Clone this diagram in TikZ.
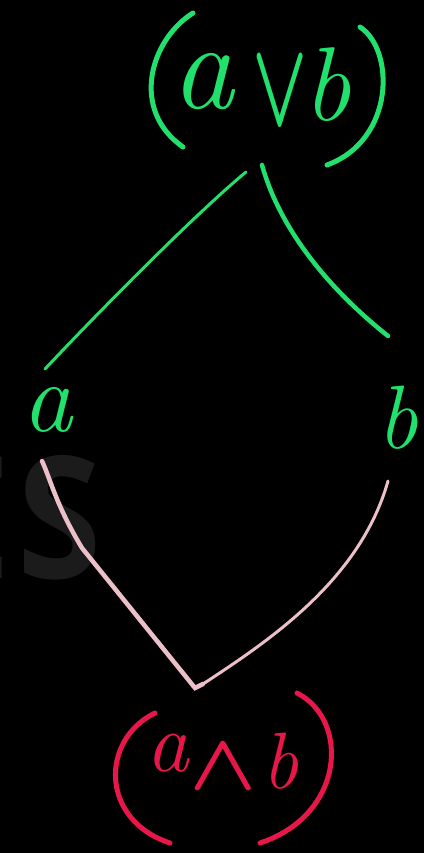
\documentclass[tikz,border=0pt]{standalone}
\usepackage{fix-cm}
\usepackage{fontspec}
\newfontfamily\wmfont{Open Sans}
\definecolor{hgreen}{HTML}{22E06C}
\definecolor{hpink}{HTML}{EBC0C8}
\definecolor{hred}{HTML}{E8174A}
\definecolor{wmgray}{HTML}{1B1B1B}
\begin{document}
\begin{tikzpicture}[x=1pt,y=-1pt,
  stroke/.style={line width=#1,line cap=round},
  gtxt/.style={text=hgreen,inner sep=0pt},
  rtxt/.style={text=hred,inner sep=0pt}]
\useasboundingbox (0,0) rectangle (424,853);
\fill[black] (0,0) rectangle (424,853);
% watermark
\begin{scope}
\clip (0,0) rectangle (424,853);
\node[text=wmgray,inner sep=0pt,anchor=east,xscale=0.9,font={\wmfont\bfseries\fontsize{170}{170}\selectfont}] (wm) at (102,518) {E\kern 7pt S};
\end{scope}
% top expression
\node[gtxt,font=\itshape\fontsize{125}{125}\selectfont] (topa) at (203,82) {a};
\node[gtxt,xscale=0.6,font=\boldmath\fontsize{120}{120}\selectfont] (topor) at (280,92) {$\vee$};
\node[gtxt,font=\itshape\fontsize{105}{105}\selectfont] (topb) at (327,85) {b};
\draw[hgreen,stroke=5pt] (193,13) .. controls (150,40) and (130,110) .. (183,147);
\draw[hgreen,stroke=5pt] (360,27) .. controls (395,50) and (395,140) .. (327,165);
% middle letters
\node[gtxt,font=\itshape\fontsize{100}{100}\selectfont] (a) at (47,410) {a};
\node[gtxt,font=\itshape\fontsize{90}{90}\selectfont] (b) at (398,418) {b};
% green connectors
\coordinate (tl) at (246,172);
\coordinate (tr) at (262,165);
\coordinate (al) at (45,369);
\coordinate (br) at (388,336);
\draw[hgreen,stroke=3pt] (tl) .. controls (200,210) and (110,300) .. (al);
\draw[hgreen,stroke=4.5pt] (tr) .. controls (280,230) and (330,290) .. (br);
% pink connectors
\coordinate (la) at (42,461);
\coordinate (rb) at (388,481);
\coordinate (m1) at (195,688);
\coordinate (m2) at (203,684);
\draw[hpink,stroke=4.5pt] (la) .. controls (50,478) and (56,505) .. (82,548) -- (m1) -- (m2);
\draw[hpink,stroke=3pt] (rb) .. controls (360,580) and (270,640) .. (m2);
% bottom expression
\node[rtxt,font=\itshape\fontsize{85}{85}\selectfont] (bota) at (168,753) {a};
\node[rtxt,xscale=1.1,font=\boldmath\fontsize{80}{80}\selectfont] (botand) at (223,767) {$\wedge$};
\node[rtxt,font=\itshape\fontsize{80}{80}\selectfont] (botb) at (280,761) {b};
\draw[hred,stroke=5pt] (155,713) .. controls (100,740) and (100,820) .. (170,843);
\draw[hred,stroke=5pt] (297,693) .. controls (350,720) and (345,815) .. (260,843);
\end{tikzpicture}
\end{document}
